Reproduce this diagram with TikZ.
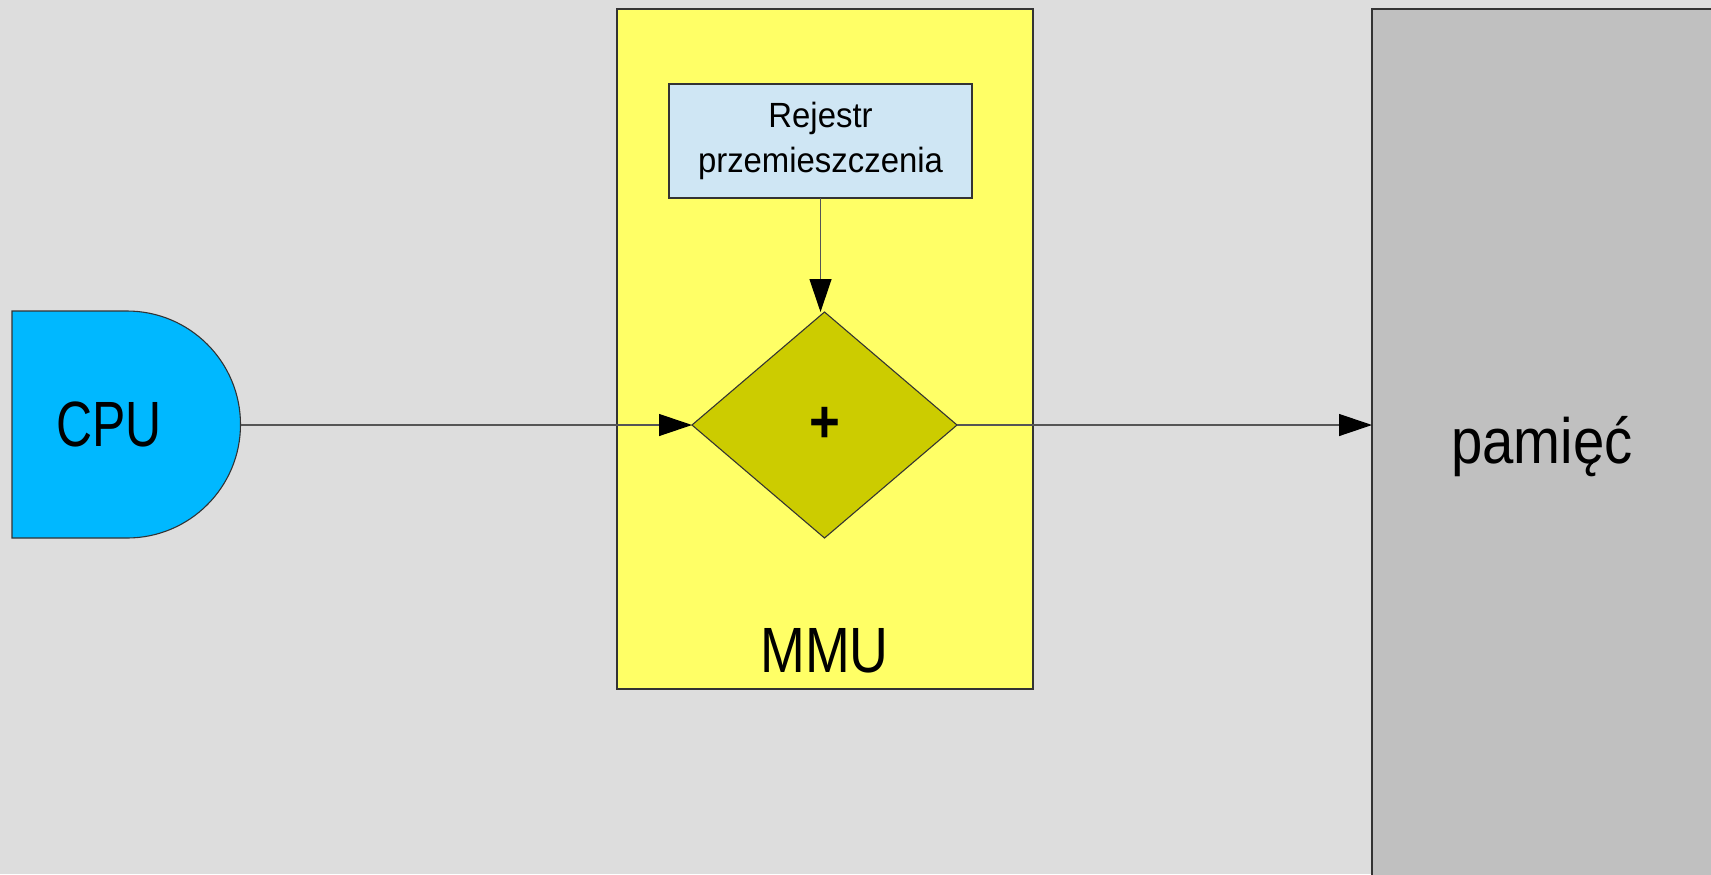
\documentclass[tikz,border=0pt]{standalone}
\usepackage{fontspec}
\setmainfont{Liberation Sans}[FakeStretch=0.88]
\newfontfamily\capsfont{Liberation Sans}[FakeStretch=0.78]
\newfontfamily\mmufont{Liberation Sans}[FakeStretch=0.84]
\newfontfamily\regfont{Liberation Sans}[FakeStretch=0.94]
\usetikzlibrary{shapes.geometric,arrows.meta}
\definecolor{bg}{HTML}{DDDDDD}
\definecolor{memfill}{HTML}{C0C0C0}
\definecolor{cpufill}{HTML}{00B8FF}
\definecolor{mmufill}{HTML}{FFFF66}
\definecolor{sumfill}{HTML}{CCCC00}
\definecolor{regfill}{HTML}{CFE6F4}
\definecolor{edge}{HTML}{333333}
\definecolor{wire}{HTML}{555555}
\tikzset{
  box/.style={draw=edge, line width=0.55pt, inner sep=0pt, outer sep=0pt},
  conn/.style={draw=wire, line width=0.6pt, -{Triangle[length=16.5pt,width=11pt,color=black]}},
  bigtext/.style={font=\capsfont\fontsize{32}{38}\selectfont, inner sep=0pt},
}
\begin{document}
\begin{tikzpicture}[x=0.5pt,y=-0.5pt]
\useasboundingbox (0,0) rectangle (1711,874);
\fill[bg] (0,0) rectangle (1711,874);
% memory
\node[box, fill=memfill, minimum width=170pt, minimum height=438pt,
      font=\fontsize{32}{38}\selectfont] (mem) at (1542,447) {pamięć};
% MMU
\node[box, fill=mmufill, minimum width=208pt, minimum height=340pt] (mmu) at (825,349) {};
\node[bigtext, font=\mmufont\fontsize{32}{38}\selectfont] (mmulabel) at (824.5,650.5) {MMU};
% register
\node[box, fill=regfill, minimum width=151.5pt, minimum height=57pt, align=center,
      font=\regfont\fontsize{17.5}{22.5}\selectfont] (reg) at (820.5,141) {Rejestr\\przemieszczenia};
% adder
\node[box, diamond, fill=sumfill, minimum width=132.5pt, minimum height=113pt,
      font=\bfseries\fontsize{30}{32}\selectfont] (sum) at (824.5,425) {+};
% CPU
\draw[box, fill=cpufill] (12,311) -- (127,311) arc[start angle=-90, end angle=90, radius=113.5] -- (12,538) -- cycle;
\coordinate (cpuE) at (240.5,425);
\node[bigtext] (cpu) at (109,424) {CPU};
% connectors
\draw[conn] (cpuE) -- (sum.west);
\draw[conn] (reg.south) -- (reg.south |- sum.north);
\draw[conn] (sum.east) -- (sum.east -| mem.west);
\end{tikzpicture}
\end{document}
